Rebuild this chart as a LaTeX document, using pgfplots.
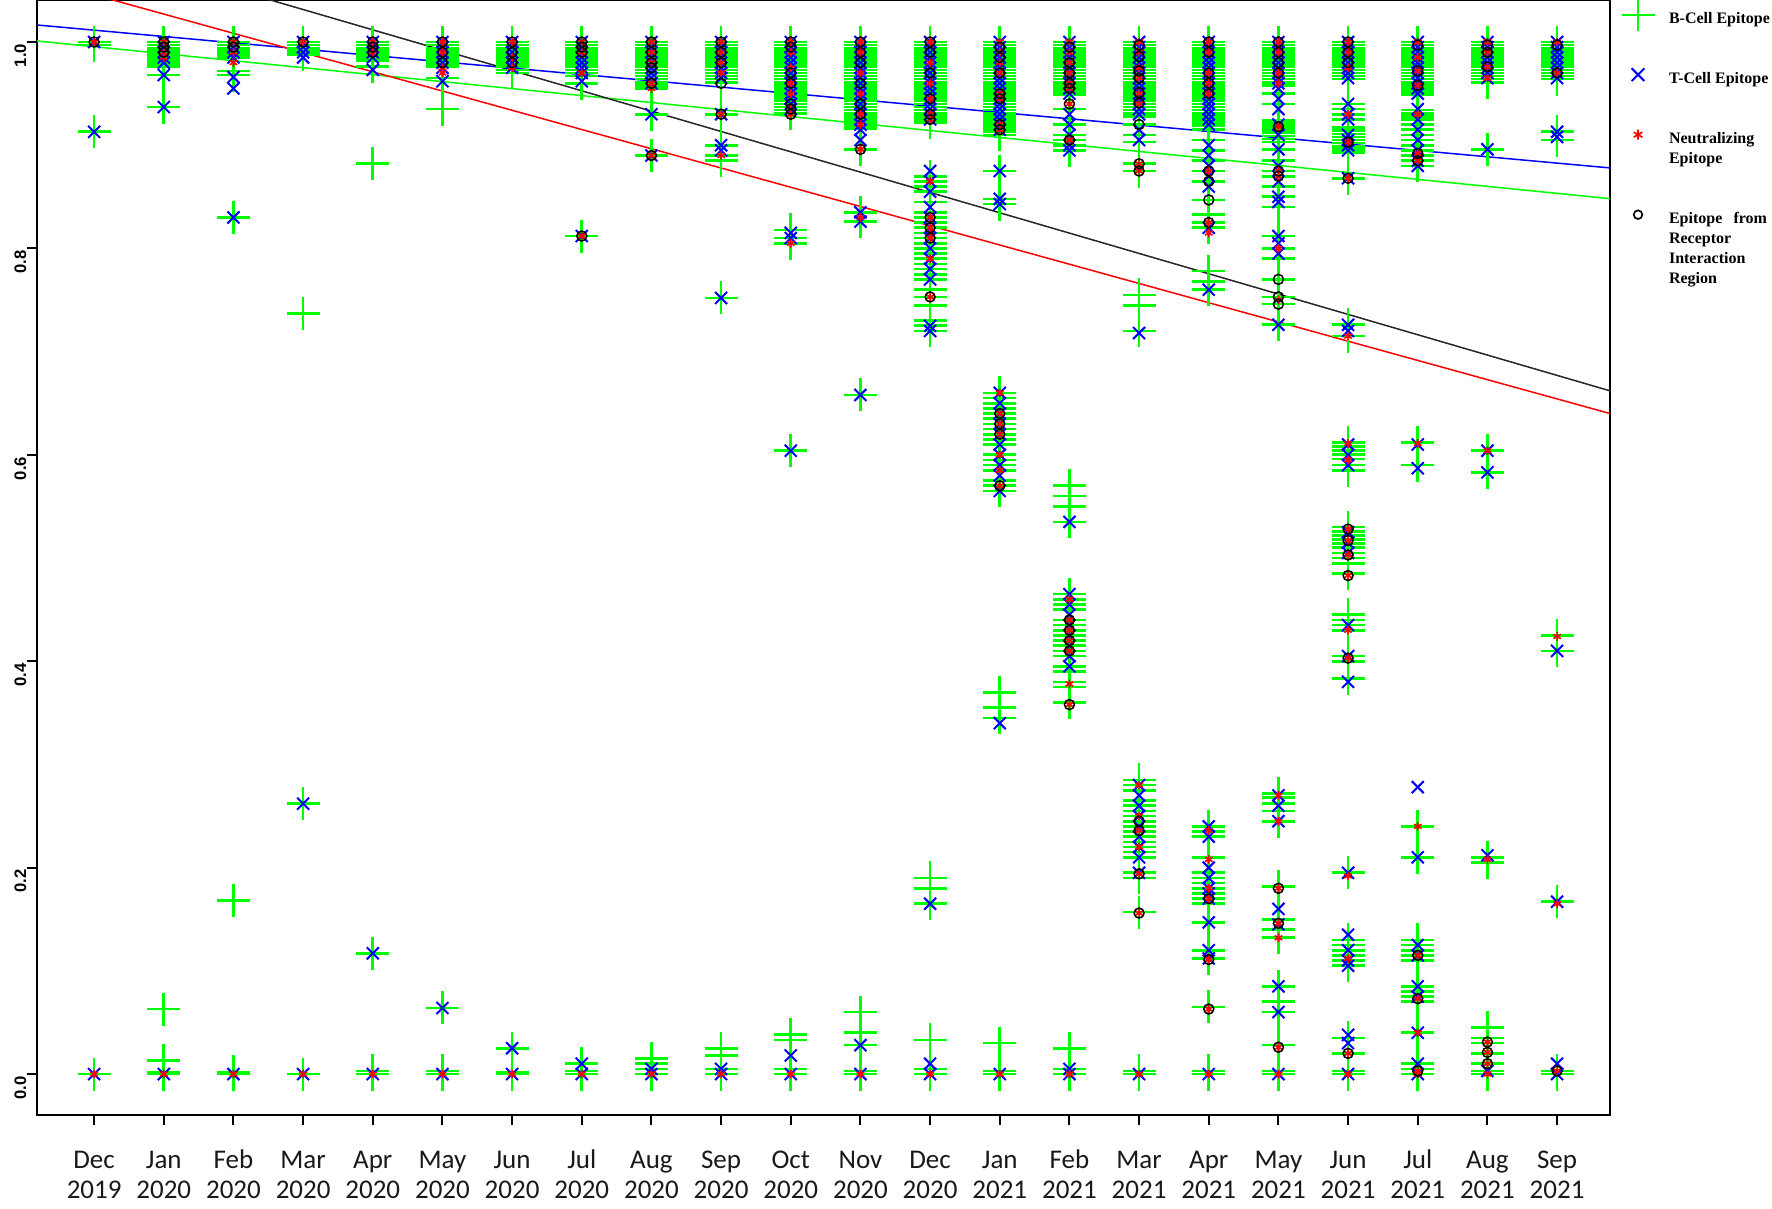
\documentclass[border=0pt]{standalone}
\usepackage{fontspec}
\usepackage{pgfplots}
\pgfplotsset{compat=1.18}
\newfontfamily\legfont{Liberation Serif}
\newfontfamily\xfont{Carlito}
\newfontfamily\yfont{Liberation Sans}
\definecolor{rgreen}{rgb}{0,1,0}
\definecolor{rblue}{rgb}{0,0,1}
\definecolor{rred}{rgb}{1,0,0}
\definecolor{labgray}{gray}{0.1}
\newcommand{\xl}[2]{\vphantom{Jbl}#1\\#2}
\begin{document}
\begin{tikzpicture}
\begin{axis}[
  at={(11.1pt,27.9pt)}, anchor=south west,
  scale only axis, width=471.9pt, height=334.5pt,
  xmin=-0.82, xmax=21.76, ymin=-0.0397, ymax=1.0407,
  axis line style={line width=0.7pt},
  xtick={0,...,21},
  xticklabels={{\xl{Dec}{2019}},{\xl{Jan}{2020}},{\xl{Feb}{2020}},{\xl{Mar}{2020}},{\xl{Apr}{2020}},{\xl{May}{2020}},{\xl{Jun}{2020}},{\xl{Jul}{2020}},{\xl{Aug}{2020}},{\xl{Sep}{2020}},{\xl{Oct}{2020}},{\xl{Nov}{2020}},{\xl{Dec}{2020}},{\xl{Jan}{2021}},{\xl{Feb}{2021}},{\xl{Mar}{2021}},{\xl{Apr}{2021}},{\xl{May}{2021}},{\xl{Jun}{2021}},{\xl{Jul}{2021}},{\xl{Aug}{2021}},{\xl{Sep}{2021}}},
  ytick={0,0.2,0.4,0.6,0.8,1.0},
  yticklabels={0.0,0.2,0.4,0.6,0.8,1.0},
  tick align=outside, tick pos=left, major tick length=3pt,
  tick style={line width=0.6pt, black},
  yticklabel style={rotate=90, anchor=south, inner sep=0pt, xshift=-4.1pt, font=\yfont\bfseries\fontsize{5}{6}\selectfont},
  xticklabel style={align=center, anchor=north, inner sep=0pt, yshift=-7.3pt, text=labgray, font=\xfont\fontsize{8.1}{9}\selectfont},
  legend cell align=left,
  legend style={at={(axis description cs:1.00731,0.99103)}, anchor=north west, draw=none, fill=none,
    inner sep=0pt, outer sep=0pt, row sep=0pt, column sep=4.35pt,
    font=\legfont\bfseries\fontsize{4.8}{6}\selectfont,
    nodes={inner sep=0pt, text height=4pt, text depth=2pt}},
]
% regression lines
\addplot[forget plot, draw=rgreen, line width=0.45pt] coordinates {(-0.82,1.001) (21.76,0.8482)};
\addplot[forget plot, draw=rblue, line width=0.45pt] coordinates {(-0.82,1.0165) (21.76,0.878)};
\addplot[forget plot, draw=rred, line width=0.45pt] coordinates {(-0.82,1.061) (21.76,0.640)};
\addplot[forget plot, draw=black!85, line width=0.45pt] coordinates {(-0.82,1.1067) (21.76,0.662)};
% B-cell epitopes
\addplot[forget plot, only marks, mark=+, mark size=4.95pt, rgreen, line width=0.8pt] coordinates {
(0,1.000)(0,0.997)(0,0.913)(0,0.000)
(1,1.000)(1,0.997)(1,0.994)(1,0.991)(1,0.988)(1,0.985)(1,0.982)(1,0.979)(1,0.976)(1,0.968)(1,0.937)(1,0.063)(1,0.013)(1,0.002)(1,0.000)
(2,1.000)(2,0.997)(2,0.994)(2,0.991)(2,0.988)(2,0.985)(2,0.972)(2,0.968)(2,0.830)(2,0.168)(2,0.002)(2,0.000)
(3,1.000)(3,0.997)(3,0.994)(3,0.991)(3,0.988)(3,0.737)(3,0.262)(3,0.000)
(4,1.000)(4,0.997)(4,0.994)(4,0.991)(4,0.988)(4,0.985)(4,0.982)(4,0.976)(4,0.882)(4,0.117)(4,0.003)(4,0.000)
(5,1.000)(5,0.997)(5,0.994)(5,0.991)(5,0.988)(5,0.985)(5,0.982)(5,0.979)(5,0.976)(5,0.965)(5,0.935)(5,0.064)(5,0.003)(5,0.000)
(6,1.000)(6,0.997)(6,0.994)(6,0.991)(6,0.988)(6,0.985)(6,0.982)(6,0.979)(6,0.976)(6,0.973)(6,0.970)(6,0.025)(6,0.002)(6,0.000)
(7,1.000)(7,0.997)(7,0.994)(7,0.991)(7,0.988)(7,0.985)(7,0.982)(7,0.979)(7,0.976)(7,0.973)(7,0.970)(7,0.967)(7,0.960)(7,0.812)(7,0.010)(7,0.003)(7,0.000)
(8,1.000)(8,0.997)(8,0.994)(8,0.991)(8,0.988)(8,0.985)(8,0.982)(8,0.979)(8,0.976)(8,0.973)(8,0.970)(8,0.967)(8,0.964)(8,0.961)(8,0.958)(8,0.955)(8,0.930)(8,0.890)(8,0.015)(8,0.010)(8,0.005)(8,0.000)
(9,1.000)(9,0.997)(9,0.994)(9,0.991)(9,0.988)(9,0.985)(9,0.982)(9,0.979)(9,0.976)(9,0.973)(9,0.970)(9,0.967)(9,0.964)(9,0.961)(9,0.930)(9,0.900)(9,0.890)(9,0.885)(9,0.752)(9,0.025)(9,0.018)(9,0.005)(9,0.000)
(10,1.000)(10,0.997)(10,0.994)(10,0.991)(10,0.988)(10,0.985)(10,0.982)(10,0.979)(10,0.976)(10,0.973)(10,0.970)(10,0.967)(10,0.964)(10,0.961)(10,0.958)(10,0.955)(10,0.952)(10,0.949)(10,0.946)(10,0.943)(10,0.940)(10,0.937)(10,0.934)(10,0.931)(10,0.818)(10,0.810)(10,0.805)(10,0.604)(10,0.038)(10,0.033)(10,0.005)(10,0.000)
(11,1.000)(11,0.997)(11,0.994)(11,0.991)(11,0.988)(11,0.985)(11,0.982)(11,0.979)(11,0.976)(11,0.973)(11,0.970)(11,0.967)(11,0.964)(11,0.961)(11,0.958)(11,0.955)(11,0.952)(11,0.949)(11,0.946)(11,0.943)(11,0.940)(11,0.937)(11,0.934)(11,0.931)(11,0.928)(11,0.925)(11,0.922)(11,0.919)(11,0.916)(11,0.896)(11,0.835)(11,0.826)(11,0.658)(11,0.060)(11,0.040)(11,0.028)(11,0.003)(11,0.000)
(12,1.000)(12,0.997)(12,0.994)(12,0.991)(12,0.988)(12,0.985)(12,0.982)(12,0.979)(12,0.976)(12,0.973)(12,0.970)(12,0.967)(12,0.964)(12,0.961)(12,0.958)(12,0.955)(12,0.952)(12,0.949)(12,0.946)(12,0.943)(12,0.940)(12,0.937)(12,0.934)(12,0.931)(12,0.928)(12,0.925)(12,0.922)
(12,0.870)(12,0.865)(12,0.860)(12,0.855)(12,0.845)(12,0.835)(12,0.830)(12,0.825)(12,0.820)(12,0.815)(12,0.810)(12,0.805)(12,0.800)(12,0.795)(12,0.790)(12,0.785)(12,0.780)(12,0.775)(12,0.770)(12,0.760)(12,0.753)(12,0.745)(12,0.730)(12,0.725)(12,0.720)(12,0.190)(12,0.180)(12,0.165)(12,0.033)(12,0.005)(12,0.000)
(13,1.000)(13,0.997)(13,0.994)(13,0.991)(13,0.988)(13,0.985)(13,0.982)(13,0.979)(13,0.976)(13,0.973)(13,0.970)(13,0.967)(13,0.964)(13,0.961)(13,0.958)(13,0.955)(13,0.952)(13,0.949)(13,0.946)(13,0.943)(13,0.940)(13,0.937)(13,0.934)(13,0.931)(13,0.928)(13,0.925)(13,0.922)(13,0.919)(13,0.916)(13,0.913)(13,0.910)
(13,0.875)(13,0.848)(13,0.843)(13,0.660)(13,0.655)(13,0.650)(13,0.645)(13,0.640)(13,0.635)(13,0.630)(13,0.625)(13,0.620)(13,0.615)(13,0.610)(13,0.600)(13,0.595)(13,0.590)(13,0.585)(13,0.575)(13,0.570)(13,0.565)(13,0.370)(13,0.355)(13,0.345)(13,0.030)(13,0.003)(13,0.000)
(14,1.000)(14,0.997)(14,0.994)(14,0.991)(14,0.988)(14,0.985)(14,0.982)(14,0.979)(14,0.976)(14,0.973)(14,0.970)(14,0.967)(14,0.964)(14,0.961)(14,0.958)(14,0.955)(14,0.952)(14,0.949)
(14,0.935)(14,0.920)(14,0.910)(14,0.905)(14,0.900)(14,0.895)(14,0.570)(14,0.560)(14,0.550)(14,0.535)(14,0.465)(14,0.460)(14,0.455)(14,0.450)(14,0.440)(14,0.435)(14,0.430)(14,0.425)(14,0.420)(14,0.415)(14,0.410)(14,0.405)(14,0.395)(14,0.390)(14,0.380)(14,0.375)(14,0.360)(14,0.025)(14,0.005)(14,0.000)
(15,1.000)(15,0.997)(15,0.994)(15,0.991)(15,0.988)(15,0.985)(15,0.982)(15,0.979)(15,0.976)(15,0.973)(15,0.970)(15,0.967)(15,0.964)(15,0.961)(15,0.958)(15,0.955)(15,0.952)(15,0.949)(15,0.946)(15,0.943)(15,0.940)(15,0.937)(15,0.934)(15,0.931)(15,0.928)
(15,0.920)(15,0.910)(15,0.903)(15,0.882)(15,0.875)(15,0.755)(15,0.745)(15,0.720)(15,0.285)(15,0.280)(15,0.275)(15,0.265)(15,0.260)(15,0.255)(15,0.250)(15,0.245)(15,0.240)(15,0.235)(15,0.230)(15,0.225)(15,0.220)(15,0.215)(15,0.210)(15,0.195)(15,0.190)(15,0.157)(15,0.003)(15,0.000)
(16,1.000)(16,0.997)(16,0.994)(16,0.991)(16,0.988)(16,0.985)(16,0.982)(16,0.979)(16,0.976)(16,0.973)(16,0.970)(16,0.967)(16,0.964)(16,0.961)(16,0.958)(16,0.955)(16,0.952)(16,0.949)(16,0.946)(16,0.943)(16,0.940)(16,0.937)(16,0.934)(16,0.931)(16,0.928)(16,0.925)(16,0.922)(16,0.919)
(16,0.915)(16,0.905)(16,0.895)(16,0.885)(16,0.875)(16,0.865)(16,0.847)(16,0.833)(16,0.825)(16,0.820)(16,0.778)(16,0.768)(16,0.760)(16,0.240)(16,0.235)(16,0.230)(16,0.210)(16,0.195)(16,0.190)(16,0.185)(16,0.180)(16,0.175)(16,0.170)(16,0.165)(16,0.147)(16,0.120)(16,0.112)(16,0.065)(16,0.003)(16,0.000)
(17,1.000)(17,0.997)(17,0.994)(17,0.991)(17,0.988)(17,0.985)(17,0.982)(17,0.979)(17,0.976)(17,0.973)(17,0.970)(17,0.967)(17,0.964)(17,0.961)(17,0.958)
(17,0.950)(17,0.940)(17,0.924)(17,0.921)(17,0.918)(17,0.915)(17,0.912)(17,0.909)(17,0.906)(17,0.903)(17,0.896)(17,0.885)(17,0.875)(17,0.870)(17,0.860)(17,0.850)(17,0.840)(17,0.812)(17,0.800)(17,0.790)(17,0.770)(17,0.753)(17,0.746)(17,0.726)
(17,0.272)(17,0.268)(17,0.262)(17,0.255)(17,0.245)(17,0.182)(17,0.150)(17,0.140)(17,0.132)(17,0.085)(17,0.070)(17,0.060)(17,0.028)(17,0.003)(17,0.000)
(18,1.000)(18,0.997)(18,0.994)(18,0.991)(18,0.988)(18,0.985)(18,0.982)(18,0.979)(18,0.976)(18,0.973)(18,0.970)(18,0.967)(18,0.964)
(18,0.940)(18,0.935)(18,0.930)(18,0.925)(18,0.917)(18,0.914)(18,0.911)(18,0.908)(18,0.905)(18,0.902)(18,0.899)(18,0.896)(18,0.893)(18,0.868)(18,0.726)(18,0.715)
(18,0.612)(18,0.608)(18,0.604)(18,0.600)(18,0.596)(18,0.590)(18,0.585)(18,0.530)(18,0.526)(18,0.522)(18,0.518)(18,0.514)(18,0.510)(18,0.505)(18,0.500)(18,0.495)(18,0.485)(18,0.445)(18,0.440)(18,0.435)(18,0.430)(18,0.405)(18,0.400)(18,0.383)
(18,0.195)(18,0.130)(18,0.125)(18,0.120)(18,0.115)(18,0.110)(18,0.105)(18,0.035)(18,0.020)(18,0.003)(18,0.000)
(19,1.000)(19,0.997)(19,0.994)(19,0.991)(19,0.988)(19,0.985)(19,0.982)(19,0.979)(19,0.976)(19,0.973)(19,0.970)(19,0.967)(19,0.964)(19,0.961)(19,0.958)(19,0.955)(19,0.952)(19,0.949)
(19,0.934)(19,0.931)(19,0.928)(19,0.925)(19,0.920)(19,0.915)(19,0.910)(19,0.905)(19,0.900)(19,0.895)(19,0.890)(19,0.885)(19,0.880)(19,0.612)(19,0.590)(19,0.240)(19,0.210)
(19,0.130)(19,0.125)(19,0.120)(19,0.115)(19,0.110)(19,0.085)(19,0.080)(19,0.075)(19,0.070)(19,0.040)(19,0.010)(19,0.005)(19,0.000)
(20,1.000)(20,0.997)(20,0.994)(20,0.991)(20,0.988)(20,0.985)(20,0.982)(20,0.979)(20,0.976)(20,0.973)(20,0.970)(20,0.967)(20,0.964)(20,0.961)
(20,0.896)(20,0.604)(20,0.583)(20,0.210)(20,0.205)(20,0.045)(20,0.035)(20,0.030)(20,0.020)(20,0.010)(20,0.003)(20,0.000)
(21,1.000)(21,0.997)(21,0.994)(21,0.991)(21,0.988)(21,0.985)(21,0.982)(21,0.979)(21,0.976)(21,0.973)(21,0.970)(21,0.967)(21,0.964)
(21,0.913)(21,0.905)(21,0.425)(21,0.410)(21,0.167)(21,0.003)(21,0.000)
};
% T-cell epitopes
\addplot[forget plot, only marks, mark=x, mark size=2.55pt, rblue, line width=0.6pt] coordinates {
(0,1.000)(0,0.913)(0,0.000)
(1,1.000)(1,0.995)(1,0.990)(1,0.985)(1,0.980)(1,0.968)(1,0.937)(1,0.000)
(2,1.000)(2,0.995)(2,0.990)(2,0.985)(2,0.966)(2,0.955)(2,0.830)(2,0.000)
(3,1.000)(3,0.995)(3,0.990)(3,0.985)(3,0.262)(3,0.000)
(4,1.000)(4,0.995)(4,0.990)(4,0.985)(4,0.973)(4,0.117)(4,0.000)
(5,1.000)(5,0.995)(5,0.990)(5,0.985)(5,0.980)(5,0.975)(5,0.962)(5,0.064)(5,0.000)
(6,1.000)(6,0.995)(6,0.990)(6,0.985)(6,0.980)(6,0.975)(6,0.025)(6,0.000)
(7,1.000)(7,0.995)(7,0.990)(7,0.985)(7,0.980)(7,0.975)(7,0.970)(7,0.962)(7,0.812)(7,0.010)(7,0.000)
(8,1.000)(8,0.995)(8,0.990)(8,0.985)(8,0.980)(8,0.975)(8,0.970)(8,0.965)(8,0.960)(8,0.930)(8,0.890)(8,0.005)(8,0.000)
(9,1.000)(9,0.995)(9,0.990)(9,0.985)(9,0.980)(9,0.975)(9,0.970)(9,0.965)(9,0.930)(9,0.900)(9,0.895)(9,0.752)(9,0.005)(9,0.000)
(10,1.000)(10,0.995)(10,0.990)(10,0.985)(10,0.980)(10,0.975)(10,0.970)(10,0.965)(10,0.960)(10,0.955)(10,0.950)(10,0.945)(10,0.940)(10,0.935)(10,0.815)(10,0.810)(10,0.604)(10,0.018)(10,0.000)
(11,1.000)(11,0.995)(11,0.990)(11,0.985)(11,0.980)(11,0.975)(11,0.970)(11,0.965)(11,0.960)(11,0.955)(11,0.950)(11,0.945)(11,0.940)(11,0.935)(11,0.930)(11,0.925)(11,0.920)(11,0.915)(11,0.905)(11,0.835)(11,0.826)(11,0.658)(11,0.028)(11,0.000)
(12,1.000)(12,0.995)(12,0.990)(12,0.985)(12,0.980)(12,0.975)(12,0.970)(12,0.965)(12,0.960)(12,0.955)(12,0.950)(12,0.945)(12,0.940)(12,0.935)(12,0.930)(12,0.925)
(12,0.875)(12,0.865)(12,0.855)(12,0.840)(12,0.830)(12,0.820)(12,0.810)(12,0.800)(12,0.790)(12,0.780)(12,0.770)(12,0.725)(12,0.720)(12,0.165)(12,0.010)(12,0.000)
(13,1.000)(13,0.995)(13,0.990)(13,0.985)(13,0.980)(13,0.975)(13,0.970)(13,0.965)(13,0.960)(13,0.955)(13,0.950)(13,0.945)(13,0.940)(13,0.935)(13,0.930)(13,0.925)(13,0.920)(13,0.915)
(13,0.875)(13,0.848)(13,0.843)(13,0.660)(13,0.650)(13,0.640)(13,0.630)(13,0.620)(13,0.610)(13,0.600)(13,0.590)(13,0.580)(13,0.565)(13,0.340)(13,0.000)
(14,1.000)(14,0.995)(14,0.990)(14,0.985)(14,0.980)(14,0.975)(14,0.970)(14,0.965)(14,0.960)(14,0.955)(14,0.950)
(14,0.930)(14,0.920)(14,0.910)(14,0.900)(14,0.895)(14,0.535)(14,0.465)(14,0.455)(14,0.445)(14,0.435)(14,0.425)(14,0.415)(14,0.405)(14,0.395)(14,0.005)(14,0.000)
(15,1.000)(15,0.995)(15,0.990)(15,0.985)(15,0.980)(15,0.975)(15,0.970)(15,0.965)(15,0.960)(15,0.955)(15,0.950)(15,0.945)(15,0.940)(15,0.935)(15,0.930)
(15,0.915)(15,0.905)(15,0.718)(15,0.280)(15,0.270)(15,0.260)(15,0.250)(15,0.240)(15,0.230)(15,0.220)(15,0.210)(15,0.195)(15,0.000)
(16,1.000)(16,0.995)(16,0.990)(16,0.985)(16,0.980)(16,0.975)(16,0.970)(16,0.965)(16,0.960)(16,0.955)(16,0.950)(16,0.945)(16,0.940)(16,0.935)(16,0.930)(16,0.925)(16,0.920)
(16,0.900)(16,0.890)(16,0.880)(16,0.870)(16,0.860)(16,0.820)(16,0.760)(16,0.240)(16,0.230)(16,0.200)(16,0.190)(16,0.180)(16,0.175)(16,0.170)(16,0.147)(16,0.120)(16,0.112)(16,0.000)
(17,1.000)(17,0.995)(17,0.990)(17,0.985)(17,0.980)(17,0.975)(17,0.970)(17,0.965)(17,0.960)(17,0.955)
(17,0.945)(17,0.935)(17,0.920)(17,0.910)(17,0.896)(17,0.880)(17,0.865)(17,0.850)(17,0.845)(17,0.812)(17,0.805)(17,0.795)(17,0.726)(17,0.270)(17,0.260)(17,0.245)(17,0.160)(17,0.145)(17,0.085)(17,0.060)(17,0.000)
(18,1.000)(18,0.995)(18,0.990)(18,0.985)(18,0.980)(18,0.975)(18,0.970)(18,0.965)
(18,0.940)(18,0.930)(18,0.925)(18,0.910)(18,0.905)(18,0.900)(18,0.895)(18,0.868)(18,0.726)(18,0.720)(18,0.610)(18,0.600)(18,0.590)(18,0.525)(18,0.515)(18,0.505)(18,0.435)(18,0.405)(18,0.380)
(18,0.195)(18,0.135)(18,0.120)(18,0.110)(18,0.105)(18,0.038)(18,0.030)(18,0.000)
(19,1.000)(19,0.995)(19,0.990)(19,0.985)(19,0.980)(19,0.975)(19,0.970)(19,0.965)(19,0.960)(19,0.955)(19,0.950)
(19,0.935)(19,0.925)(19,0.915)(19,0.905)(19,0.895)(19,0.885)(19,0.880)(19,0.610)(19,0.587)(19,0.278)(19,0.210)(19,0.125)(19,0.115)(19,0.085)(19,0.075)(19,0.040)(19,0.010)(19,0.000)
(20,1.000)(20,0.995)(20,0.990)(20,0.985)(20,0.980)(20,0.975)(20,0.970)(20,0.965)(20,0.896)(20,0.604)(20,0.583)(20,0.212)(20,0.003)
(21,1.000)(21,0.995)(21,0.990)(21,0.985)(21,0.980)(21,0.975)(21,0.970)(21,0.965)(21,0.913)(21,0.908)(21,0.410)(21,0.167)(21,0.010)(21,0.000)
};
% Neutralizing epitopes
\addplot[forget plot, only marks, mark=asterisk, mark size=1.3pt, rred, line width=0.5pt] coordinates {
(0,1.000)(0,0.000)
(1,1.000)(1,0.990)(1,0.985)(1,0.000)
(2,1.000)(2,0.990)(2,0.980)(2,0.000)
(3,1.000)(3,0.000)
(4,1.000)(4,0.990)(4,0.000)
(5,1.000)(5,0.990)(5,0.975)(5,0.970)(5,0.000)
(6,1.000)(6,0.985)(6,0.975)(6,0.000)
(7,1.000)(7,0.990)(7,0.970)(7,0.812)(7,0.000)
(8,1.000)(8,0.990)(8,0.980)(8,0.960)(8,0.955)(8,0.890)(8,0.000)
(9,1.000)(9,0.990)(9,0.980)(9,0.970)(9,0.930)(9,0.890)(9,0.000)
(10,1.000)(10,0.990)(10,0.975)(10,0.960)(10,0.950)(10,0.935)(10,0.930)(10,0.805)(10,0.000)
(11,1.000)(11,0.990)(11,0.970)(11,0.950)(11,0.930)(11,0.920)(11,0.896)(11,0.830)(11,0.000)
(12,1.000)(12,0.980)(12,0.960)(12,0.945)(12,0.930)(12,0.925)(12,0.865)(12,0.830)(12,0.820)(12,0.815)(12,0.810)(12,0.790)(12,0.753)(12,0.000)
(13,1.000)(13,0.990)(13,0.980)(13,0.970)(13,0.950)(13,0.945)(13,0.920)(13,0.915)(13,0.660)(13,0.640)(13,0.630)(13,0.620)(13,0.600)(13,0.585)(13,0.570)(13,0.000)
(14,1.000)(14,0.990)(14,0.980)(14,0.970)(14,0.960)(14,0.955)(14,0.940)(14,0.905)(14,0.460)(14,0.440)(14,0.430)(14,0.420)(14,0.410)(14,0.378)(14,0.358)(14,0.000)
(15,1.000)(15,0.990)(15,0.975)(15,0.965)(15,0.950)(15,0.940)(15,0.882)(15,0.875)(15,0.280)(15,0.250)(15,0.236)(15,0.220)(15,0.194)(15,0.156)(15,0.000)
(16,1.000)(16,0.990)(16,0.970)(16,0.960)(16,0.950)(16,0.875)(16,0.825)(16,0.815)(16,0.236)(16,0.208)(16,0.180)(16,0.170)(16,0.111)(16,0.063)(16,0.000)
(17,1.000)(17,0.990)(17,0.970)(17,0.960)(17,0.918)(17,0.875)(17,0.870)(17,0.800)(17,0.750)(17,0.270)(17,0.245)(17,0.180)(17,0.146)(17,0.132)(17,0.026)(17,0.000)
(18,1.000)(18,0.990)(18,0.975)(18,0.930)(18,0.903)(18,0.868)(18,0.715)(18,0.611)(18,0.595)(18,0.528)(18,0.517)(18,0.503)(18,0.483)(18,0.430)(18,0.403)(18,0.192)(18,0.112)(18,0.020)(18,0.000)
(19,1.000)(19,0.985)(19,0.972)(19,0.958)(19,0.930)(19,0.892)(19,0.885)(19,0.611)(19,0.240)(19,0.115)(19,0.073)(19,0.040)(19,0.003)(19,0.000)
(20,1.000)(20,0.990)(20,0.976)(20,0.965)(20,0.604)(20,0.208)(20,0.031)(20,0.021)(20,0.010)(20,0.000)
(21,1.000)(21,0.970)(21,0.424)(21,0.165)(21,0.003)
};
% Receptor interaction region epitopes
\addplot[forget plot, only marks, mark=o, mark size=1.5pt, black, line width=0.45pt] coordinates {
(0,1.000)
(1,1.000)(1,0.995)(1,0.990)
(2,1.000)(2,0.995)
(3,1.000)
(4,1.000)(4,0.995)(4,0.990)
(5,1.000)(5,0.990)(5,0.980)
(6,1.000)(6,0.990)(6,0.980)
(7,1.000)(7,0.995)(7,0.990)(7,0.812)
(8,1.000)(8,0.990)(8,0.980)(8,0.975)(8,0.960)(8,0.890)
(9,1.000)(9,0.990)(9,0.980)(9,0.960)(9,0.930)
(10,1.000)(10,0.995)(10,0.970)(10,0.960)(10,0.940)(10,0.935)(10,0.930)
(11,1.000)(11,0.990)(11,0.980)(11,0.960)(11,0.940)(11,0.930)(11,0.896)
(12,1.000)(12,0.990)(12,0.970)(12,0.945)(12,0.930)(12,0.925)(12,0.830)(12,0.820)(12,0.810)(12,0.753)
(13,0.995)(13,0.985)(13,0.970)(13,0.950)(13,0.945)(13,0.920)(13,0.915)(13,0.640)(13,0.630)(13,0.620)(13,0.570)
(14,0.995)(14,0.980)(14,0.970)(14,0.960)(14,0.955)(14,0.940)(14,0.905)(14,0.440)(14,0.430)(14,0.420)(14,0.410)(14,0.358)
(15,0.997)(15,0.986)(15,0.972)(15,0.965)(15,0.951)(15,0.941)(15,0.920)(15,0.882)(15,0.875)(15,0.245)(15,0.236)(15,0.194)(15,0.156)
(16,1.000)(16,0.990)(16,0.970)(16,0.960)(16,0.950)(16,0.875)(16,0.865)(16,0.847)(16,0.825)(16,0.170)(16,0.111)(16,0.063)
(17,1.000)(17,0.990)(17,0.980)(17,0.970)(17,0.918)(17,0.875)(17,0.870)(17,0.770)(17,0.753)(17,0.746)(17,0.180)(17,0.146)(17,0.026)
(18,1.000)(18,0.990)(18,0.980)(18,0.903)(18,0.868)(18,0.528)(18,0.517)(18,0.503)(18,0.483)(18,0.403)(18,0.020)
(19,0.997)(19,0.972)(19,0.958)(19,0.892)(19,0.885)(19,0.115)(19,0.073)(19,0.003)
(20,0.997)(20,0.990)(20,0.976)(20,0.031)(20,0.021)(20,0.010)
(21,0.997)(21,0.970)(21,0.003)
};
% legend
\addlegendimage{legend image code/.code={\draw[overlay,rgreen,line width=0.6pt,mark=+,mark size=4.95pt] plot coordinates {(0pt,1.6pt)};\path[draw=none,fill=none] (-4.95pt,0pt) rectangle (4.95pt,0pt);}}
\addlegendentry{B-Cell Epitope}
\addlegendimage{empty legend}\addlegendentry{\mbox{}}
\addlegendimage{empty legend}\addlegendentry{\mbox{}}
\addlegendimage{legend image code/.code={\draw[overlay,rblue,line width=0.6pt,mark=x,mark size=2.7pt] plot coordinates {(0pt,1.6pt)};\path[draw=none,fill=none] (-4.95pt,0pt) rectangle (4.95pt,0pt);}}
\addlegendentry{T-Cell Epitope}
\addlegendimage{empty legend}\addlegendentry{\mbox{}}
\addlegendimage{empty legend}\addlegendentry{\mbox{}}
\addlegendimage{legend image code/.code={\draw[overlay,rred,line width=0.5pt,mark=asterisk,mark size=1.5pt] plot coordinates {(0pt,1.6pt)};\path[draw=none,fill=none] (-4.95pt,0pt) rectangle (4.95pt,0pt);}}
\addlegendentry{Neutralizing}
\addlegendimage{empty legend}\addlegendentry{Epitope}
\addlegendimage{empty legend}\addlegendentry{\mbox{}}
\addlegendimage{empty legend}\addlegendentry{\mbox{}}
\addlegendimage{legend image code/.code={\draw[overlay,black,line width=0.5pt,mark=o,mark size=1.3pt] plot coordinates {(0pt,1.6pt)};\path[draw=none,fill=none] (-4.95pt,0pt) rectangle (4.95pt,0pt);}}
\addlegendentry{Epitope\hspace{0.7em}from}
\addlegendimage{empty legend}\addlegendentry{Receptor}
\addlegendimage{empty legend}\addlegendentry{Interaction}
\addlegendimage{empty legend}\addlegendentry{Region}
\end{axis}
\pgfresetboundingbox
\path[use as bounding box] (0,0) rectangle (531.6pt,362.4pt);
\end{tikzpicture}
\end{document}
